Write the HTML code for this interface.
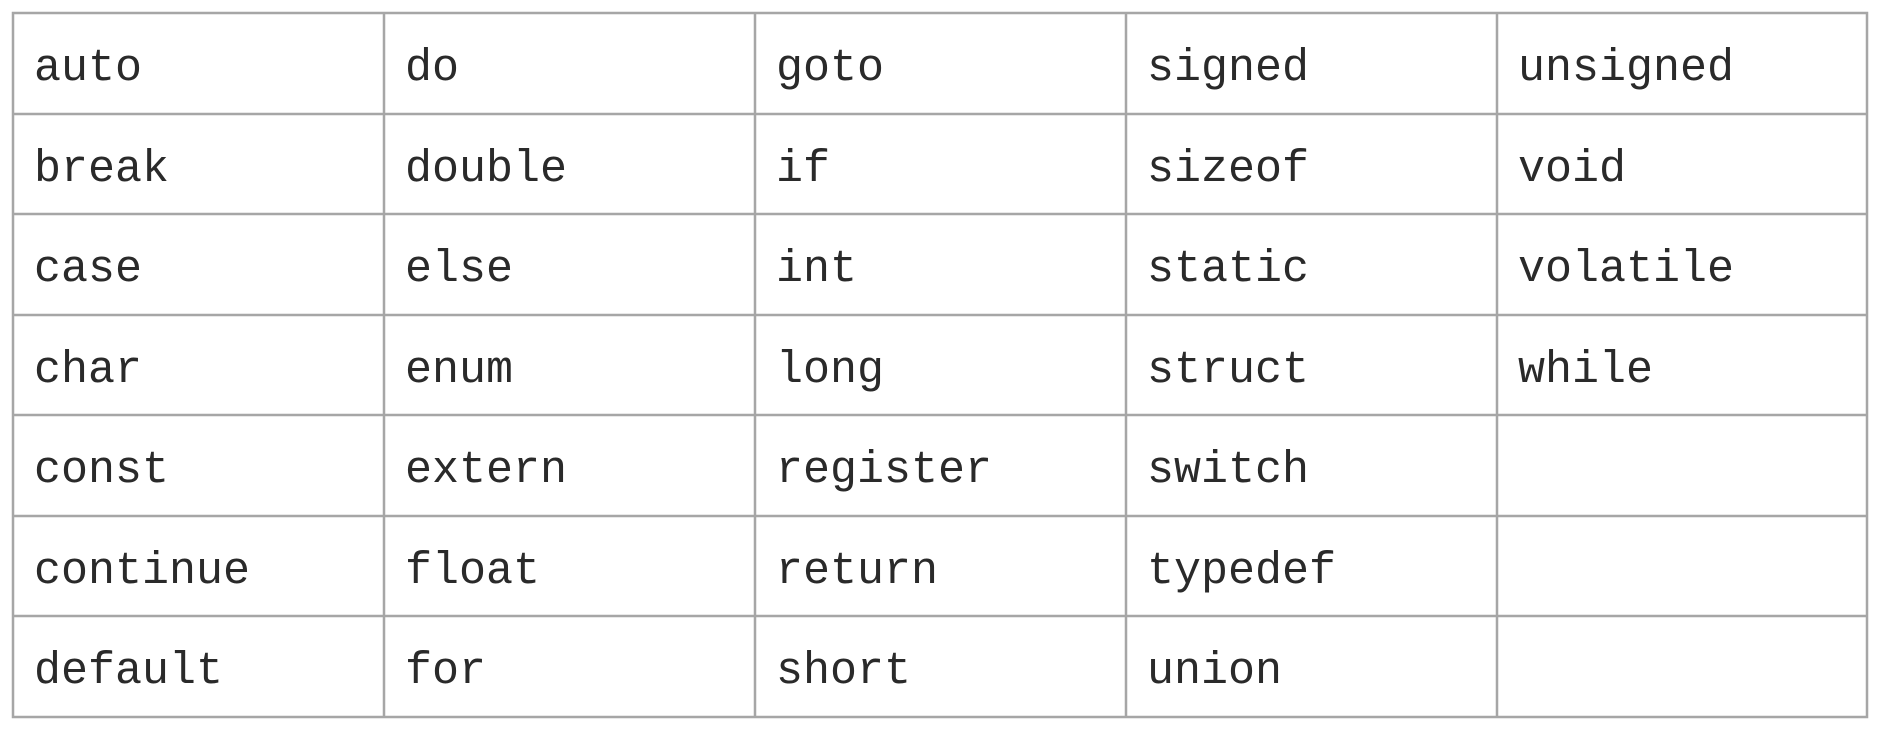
<!DOCTYPE html>
<html><head><meta charset="utf-8"><style>
html,body{margin:0;padding:0;background:#fff;width:1890px;height:738px;overflow:hidden}
text{font-family:"Liberation Mono",monospace;font-size:45px;fill:#2a2a2a}
</style></head><body>
<svg width="1890" height="738" xmlns="http://www.w3.org/2000/svg">
<g stroke="#a6a6a6" stroke-width="2.5" fill="none">
<rect x="13" y="13" width="1854" height="704"/>
<line x1="384" y1="13" x2="384" y2="717"/>
<line x1="755" y1="13" x2="755" y2="717"/>
<line x1="1126" y1="13" x2="1126" y2="717"/>
<line x1="1497" y1="13" x2="1497" y2="717"/>
<line x1="13" y1="114" x2="1867" y2="114"/>
<line x1="13" y1="214" x2="1867" y2="214"/>
<line x1="13" y1="315" x2="1867" y2="315"/>
<line x1="13" y1="415" x2="1867" y2="415"/>
<line x1="13" y1="516" x2="1867" y2="516"/>
<line x1="13" y1="616" x2="1867" y2="616"/>
</g>
<g>
<text x="34" y="80">auto</text><text x="405" y="80">do</text><text x="776" y="80">goto</text><text x="1147" y="80">signed</text><text x="1518" y="80">unsigned</text>
<text x="34" y="181">break</text><text x="405" y="181">double</text><text x="776" y="181">if</text><text x="1147" y="181">sizeof</text><text x="1518" y="181">void</text>
<text x="34" y="281">case</text><text x="405" y="281">else</text><text x="776" y="281">int</text><text x="1147" y="281">static</text><text x="1518" y="281">volatile</text>
<text x="34" y="382">char</text><text x="405" y="382">enum</text><text x="776" y="382">long</text><text x="1147" y="382">struct</text><text x="1518" y="382">while</text>
<text x="34" y="482">const</text><text x="405" y="482">extern</text><text x="776" y="482">register</text><text x="1147" y="482">switch</text>
<text x="34" y="583">continue</text><text x="405" y="583">float</text><text x="776" y="583">return</text><text x="1147" y="583">typedef</text>
<text x="34" y="683">default</text><text x="405" y="683">for</text><text x="776" y="683">short</text><text x="1147" y="683">union</text>
</g>
</svg>
</body></html>
